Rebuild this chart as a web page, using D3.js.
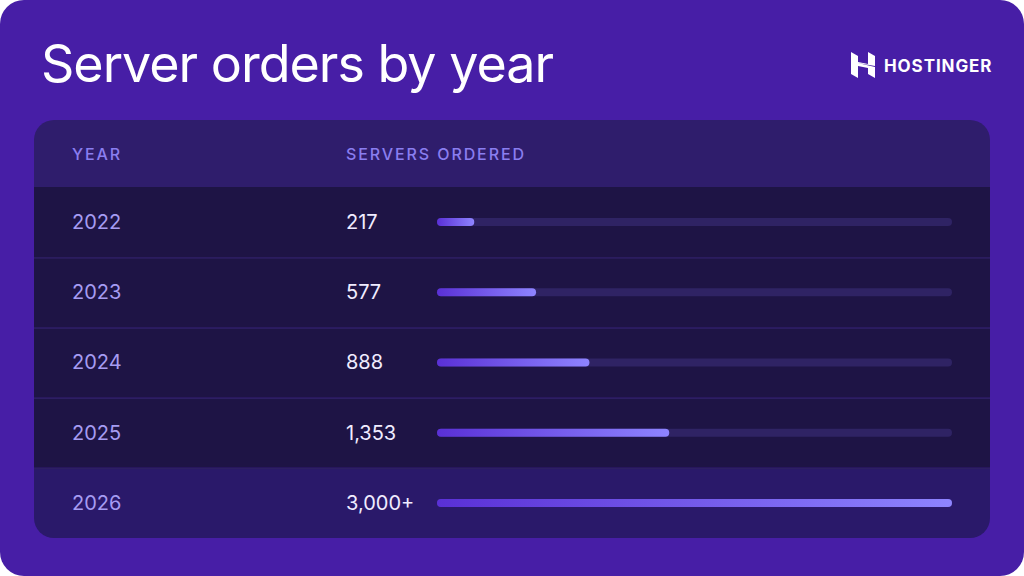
<!DOCTYPE html>
<html>
<head>
<meta charset="utf-8">
<script src="https://cdn.jsdelivr.net/npm/d3@7"></script>
<style>
  html, body { margin: 0; padding: 0; background: #ffffff; }
  svg { display: block; font-family: Inter, "Noto Sans", sans-serif; }
</style>
</head>
<body>
<div id="chart"></div>
<script>
// Data.
const years = ["2022", "2023", "2024", "2025", "2026"];
const orders = [217, 577, 888, 1353, 3000];
const orderLabels = ["217", "577", "888", "1,353", "3,000+"];
const headers = ["YEAR", "SERVERS ORDERED"];

const width = 1024, height = 576;

const svg = d3.select("#chart").append("svg")
    .attr("width", width)
    .attr("height", height)
    .attr("viewBox", [0, 0, width, height]);

const defs = svg.append("defs");
const grad = defs.append("linearGradient")
    .attr("id", "barGrad")
    .attr("x1", "0%").attr("x2", "100%");
grad.append("stop").attr("offset", "0%").attr("stop-color", "#5a30d6");
grad.append("stop").attr("offset", "100%").attr("stop-color", "#8e84ff");

// Background.
svg.append("rect")
    .attr("width", width).attr("height", height)
    .attr("rx", 24)
    .attr("fill", "#471ea6");

// Title.
svg.append("text")
    .attr("x", 41).attr("y", 82)
    .attr("fill", "#ffffff")
    .attr("font-size", 52)
    .attr("font-weight", 400)
    .attr("letter-spacing", -1)
    .text("Server orders by year");

// Logo.
const logo = svg.append("g").attr("transform", "translate(851,52)");
logo.append("path")
    .attr("fill", "#ffffff")
    .attr("d", "M0,0 L7,4 L7,10 L17,12 L17,0 L24,4 L24,14 L7,11 L24,15 L24,26 L17,22 L17,16 L7,14 L7,26 L0,22 Z");
svg.append("text")
    .attr("x", 884).attr("y", 72)
    .attr("fill", "#ffffff")
    .attr("font-size", 17)
    .attr("font-weight", 700)
    .attr("letter-spacing", 0.9)
    .text("HOSTINGER");

// Table card.
const card = { x: 34, y: 120, w: 956, h: 418, r: 20 };
const headerH = 67;

defs.append("clipPath").attr("id", "cardClip")
  .append("rect")
    .attr("x", card.x).attr("y", card.y)
    .attr("width", card.w).attr("height", card.h)
    .attr("rx", card.r);

const table = svg.append("g").attr("clip-path", "url(#cardClip)");

table.append("rect")
    .attr("x", card.x).attr("y", card.y)
    .attr("width", card.w).attr("height", headerH)
    .attr("fill", "#2f1d6c");

const y = d3.scaleBand()
    .domain(years)
    .range([card.y + headerH, card.y + card.h]);

const x = d3.scaleLinear()
    .domain([0, 3000])
    .range([437, 952]);

const rows = table.selectAll("g.row")
    .data(years)
    .join("g")
    .attr("class", "row")
    .attr("transform", d => `translate(0,${y(d)})`);

rows.append("rect")
    .attr("x", card.x).attr("width", card.w)
    .attr("height", y.bandwidth())
    .attr("fill", (d, i) => i === years.length - 1 ? "#2a196a" : "#1e1445");

rows.filter((d, i) => i > 0).append("rect")
    .attr("x", card.x).attr("width", card.w)
    .attr("height", 1.5)
    .attr("fill", "#2d1f63");

// Header labels.
svg.selectAll("text.head")
    .data(headers)
    .join("text")
    .attr("class", "head")
    .attr("x", (d, i) => i === 0 ? 72 : 346)
    .attr("y", card.y + headerH / 2 + 6)
    .attr("fill", "#8a7ef0")
    .attr("font-size", 16)
    .attr("font-weight", 500)
    .attr("letter-spacing", 1.9)
    .text(d => d);

// Year and value labels.
rows.append("text")
    .attr("x", 72)
    .attr("y", y.bandwidth() / 2 + 7)
    .attr("fill", "#a69cf2")
    .attr("font-size", 20)
    .text(d => d);

rows.append("text")
    .attr("x", 346)
    .attr("y", y.bandwidth() / 2 + 7)
    .attr("fill", "#f0ecff")
    .attr("font-size", 20)
    .text((d, i) => orderLabels[i]);

// Bars.
const barH = 8;
rows.append("rect")
    .attr("x", x(0))
    .attr("y", y.bandwidth() / 2 - barH / 2)
    .attr("width", x(3000) - x(0))
    .attr("height", barH)
    .attr("rx", barH / 2)
    .attr("fill", (d, i) => i === years.length - 1 ? "#3a2a80" : "#2f2364");

rows.append("rect")
    .attr("x", x(0))
    .attr("y", y.bandwidth() / 2 - barH / 2)
    .attr("width", (d, i) => x(orders[i]) - x(0))
    .attr("height", barH)
    .attr("rx", barH / 2)
    .attr("fill", "url(#barGrad)");
</script>
</body>
</html>
